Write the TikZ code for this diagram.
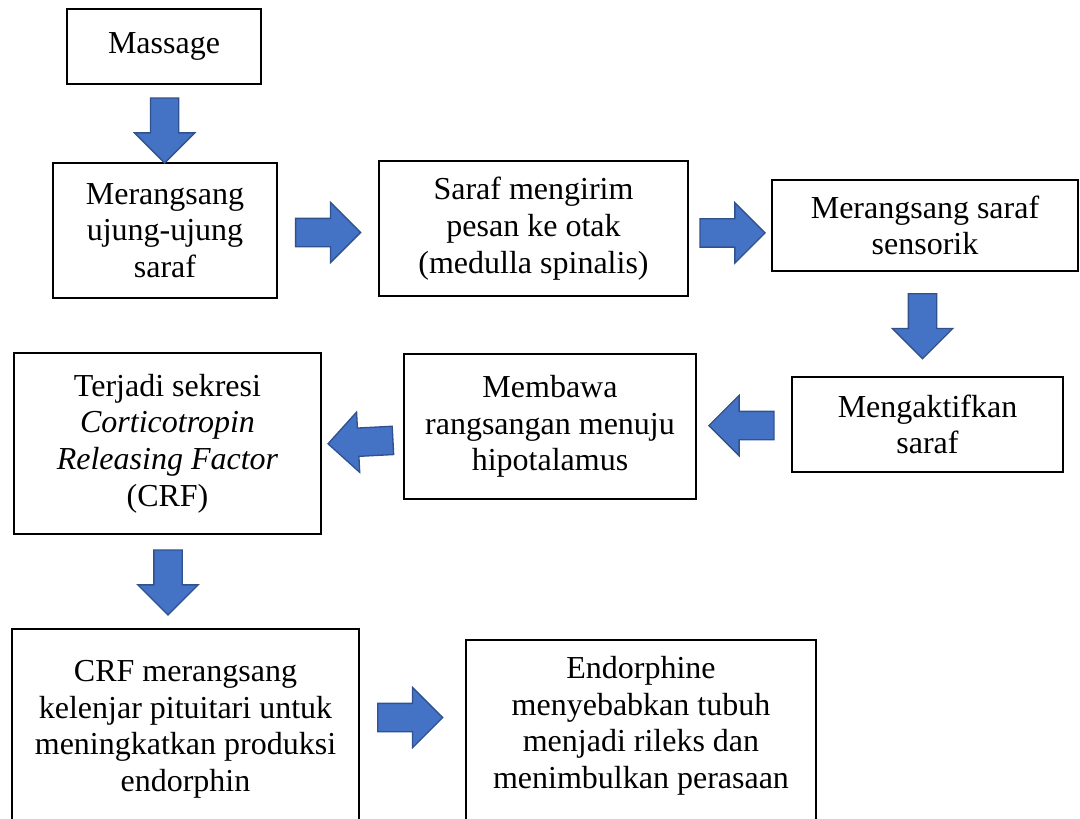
\documentclass[tikz,border=0pt]{standalone}
\usepackage{fontspec}
\setmainfont{Liberation Serif}
\usetikzlibrary{shapes.arrows}

\definecolor{arrowfill}{HTML}{4472C4}
\definecolor{arrowdraw}{HTML}{2F528F}

\tikzset{
    stage/.style={
        draw=black,
        line width=1.5pt,
        align=center,
        inner sep=0pt,
        font=\fontsize{24}{27.5}\selectfont
    },
    stage text/.style={
        align=center,
        inner sep=0pt,
        font=\fontsize{24}{27.5}\selectfont
    },
    flow arrow/.style={
        draw=arrowdraw,
        fill=arrowfill,
        line width=1pt,
        single arrow,
        single arrow head extend=12pt,
        inner xsep=0pt,
        inner ysep=10.125pt,
        minimum width=44.25pt,
        minimum height=48.75pt,
        rotate=#1,
        xshift=-5.25pt
    },
    flow arrow/.default=0
}

\begin{document}
\begin{tikzpicture}[x=0.75pt, y=-0.75pt]
        \useasboundingbox (0, 0) rectangle (1080, 818);
        \clip (0, 0) rectangle (1080, 818);

        % first row
        \node (massage) at (164, 46.5) [stage, minimum width=145.5pt, minimum height=56.25pt] {Massage};
        \node (ujung) at (165, 230.5) [stage, minimum width=168pt, minimum height=101.25pt] {Merangsang\\ ujung-ujung\\ saraf};
        \node (pesan) at (533.5, 228.5) [stage, minimum width=231.75pt, minimum height=101.25pt] {Saraf mengirim\\ pesan ke otak\\ (medulla spinalis)};
        \node (sensorik) at (925, 225.5) [stage, minimum width=229.5pt, minimum height=68.25pt] {Merangsang saraf\\ sensorik};

        % second row
        \node (aktif) at (927.5, 424.5) [stage, minimum width=203.25pt, minimum height=71.25pt] {Mengaktifkan\\ saraf};
        \node (membawa) at (550, 426.5) [stage, minimum width=219pt, minimum height=108.75pt] {Membawa\\ rangsangan menuju\\ hipotalamus};
        \node (sekresi) at (167.5, 443.5) [stage, minimum width=230.25pt, minimum height=135.75pt] {Terjadi sekresi\\ \textit{Corticotropin}\\ \textit{Releasing Factor}\\ (CRF)};

        % last row, runs off the page
        \node (crf) at (185.5, 628) [stage, anchor=north, minimum width=260.25pt, minimum height=180pt] {};
        \path (crf.north) + (0, 32) node[stage text, anchor=north] (crf_text) {CRF merangsang\\ kelenjar pituitari untuk\\ meningkatkan produksi\\ endorphin};
        \node (endorphin) at (641, 639) [stage, anchor=north, minimum width=262.5pt, minimum height=180pt] {};
        \path (endorphin.north) + (0, 17) node[stage text, anchor=north] (endorphin_text) {Endorphine\\ menyebabkan tubuh\\ menjadi rileks dan\\ menimbulkan perasaan};

        % block arrows
        \path (massage.south) -- (ujung.north) node[pos=0.59, flow arrow=270] (arrow_massage) {};
        \path (ujung.east) -- (pesan.west) node[pos=0.5, yshift=-2.25pt, flow arrow] (arrow_ujung) {};
        \path (pesan.east) -- (sensorik.west) node[pos=0.53, yshift=-4.5pt, flow arrow] (arrow_pesan) {};
        \path (sensorik.south) -- (aktif.north) node[pos=0.52, xshift=-2.8pt, flow arrow=270] (arrow_sensorik) {};
        \path (aktif.west) -- (membawa.east) node[pos=0.526, flow arrow=180] (arrow_aktif) {};
        \path (membawa.west) -- (sekresi.east) node[pos=0.524, yshift=-5pt, flow arrow=183] (arrow_membawa) {};
        \path (sekresi.south) -- (crf.north) node[pos=0.51, xshift=-6.5pt, flow arrow=270] (arrow_sekresi) {};
        \path (crf.north east) -- (endorphin.north west) node[pos=0.477, yshift=-63.2pt, flow arrow] (arrow_crf) {};
    \end{tikzpicture}
\end{document}
